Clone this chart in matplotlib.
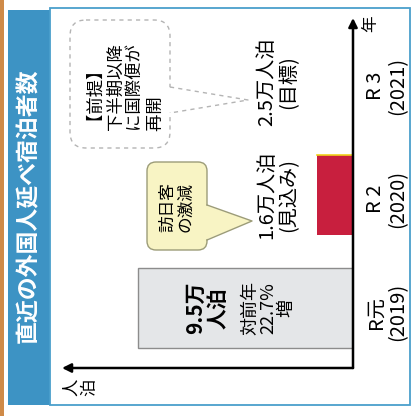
import matplotlib
matplotlib.use('Agg')
import matplotlib.pyplot as plt
from matplotlib.patches import Rectangle, FancyBboxPatch, Polygon
from matplotlib.lines import Line2D
from matplotlib.transforms import Affine2D

plt.rcParams['font.family'] = ['Noto Sans CJK JP', 'DejaVu Sans']

# data
years = ['R元\n(2019)', 'R 2\n(2020)', 'R 3\n(2021)']
values = [9.5, 1.6, 2.5]
value_labels = ['', '1.6万人泊\n(見込み)', '2.5万人泊\n(目標)']
bar_colors = ['#e4e6e8', '#c81f3e', 'none']
bar_edges = ['#8c8c8c', 'none', 'none']

title = '直近の外国人延べ宿泊者数'
box_main = '9.5万\n人泊'
box_sub = '対前年\n22.7%\n増'
callout = '訪日客\nの激減'
note_lines = ['【前提】', '下半期以降', 'に国際便が', '再開']

W, H = 414, 416
fig = plt.figure(figsize=(W / 100, H / 100), dpi=100)
fig.patch.set_facecolor('white')
# pixel coords, origin top-left (for frame / speech bubbles)
pix = Affine2D().scale(1 / W, -1 / H).translate(0, 1) + fig.transFigure

blue = '#3d93c4'
fig.add_artist(Rectangle((0, 0), 4, H, transform=pix, color='#cf8a48', lw=0,
                         zorder=-2))
fig.add_artist(Rectangle((8, 10), 42, 395, transform=pix, color=blue, lw=0,
                         zorder=-2))
fig.add_artist(Rectangle((50, 8), 360, 397, transform=pix, facecolor='white',
                         edgecolor='#4a9fcc', lw=1.3, zorder=-2))
fig.text(29, 206, title, transform=pix, rotation=90, ha='center', va='center',
         color='white', fontsize=16.5, fontweight='bold')

# main chart (rotated: values grow to the left, years go up)
ax = fig.add_axes([62 / W, 1 - 368 / H, (353 - 62) / W, (368 - 18) / H])
ax.patch.set_alpha(0)
xmax = 12.876
y0, ytop = -0.531, 2.566
ax.set_xlim(xmax, 0)
ax.set_ylim(y0, ytop)
ax.axis('off')

for i, v in enumerate(values):
    ax.barh(i, v, height=0.70, color=bar_colors[i], edgecolor=bar_edges[i],
            lw=1, zorder=2)
ax.plot([0, values[1]], [1.35, 1.35], color='#f0d21c', lw=1.2, zorder=3)

arrow = dict(arrowstyle='-|>', color='black', lw=1.8, mutation_scale=13,
             shrinkA=0, shrinkB=0)
ax.annotate('', xy=(xmax, y0), xytext=(0, y0), arrowprops=arrow,
            annotation_clip=False, zorder=4)
ax.annotate('', xy=(0, ytop), xytext=(0, y0), arrowprops=arrow,
            annotation_clip=False, zorder=4)

for i, lbl in enumerate(years):
    ax.annotate(lbl, xy=(0, i), xytext=(9, -3), textcoords='offset points',
                rotation=90, ha='left', va='center', multialignment='center',
                fontsize=14.5, linespacing=1.05)

offsets = [0, -13, 2]
for i, lbl in enumerate(value_labels):
    if lbl:
        ax.annotate(lbl, xy=(values[i], i), xytext=(offsets[i], 0),
                    textcoords='offset points', rotation=90, ha='right',
                    va='center', multialignment='center', fontsize=14.5,
                    linespacing=1.05)

ax.text(6.46, 0, box_main, rotation=90, ha='center', va='center',
        multialignment='center', fontsize=15, fontweight='bold',
        linespacing=1.1, zorder=5)
ax.text(3.76, 0, box_sub, rotation=90, ha='center', va='center',
        multialignment='center', fontsize=13, linespacing=1.0, zorder=5)

# axis unit labels
fig.text(80, 387, '人\n泊', transform=pix, rotation=90, ha='center',
         va='center', fontsize=12.5, linespacing=1.0)
fig.text(371, 24, '年', transform=pix, rotation=90, ha='center', va='center',
         fontsize=12)

# callout bubble
fill = '#f8f4c4'
edge = '#9c9c78'
fig.add_artist(FancyBboxPatch((147, 162), 60, 88, transform=pix,
                              boxstyle='round,pad=0,rounding_size=9',
                              facecolor=fill, edgecolor=edge, lw=1))
fig.add_artist(Polygon([(205, 205), (252, 221), (205, 240)], closed=True,
                       transform=pix, facecolor=fill, edgecolor='none'))
fig.add_artist(Line2D([207, 252, 207], [205, 221, 240], transform=pix,
                      color=edge, lw=1))
fig.text(177, 207, callout, transform=pix, rotation=90, ha='center',
         va='center', fontsize=12, linespacing=1.05, multialignment='left')

# dashed note bubble
gray = '#b4b4b4'
fig.add_artist(FancyBboxPatch((70, 20), 100, 128, transform=pix,
                              boxstyle='round,pad=0,rounding_size=16',
                              facecolor='none', edgecolor=gray, lw=1,
                              linestyle=(0, (3, 3))))
fig.add_artist(Polygon([(168, 87), (248, 100), (168, 113)], closed=True,
                       transform=pix, facecolor='white', edgecolor='none'))
fig.add_artist(Line2D([170, 248, 170], [87, 100, 113], transform=pix,
                      color=gray, lw=1, linestyle=(0, (3, 3))))
for k, line in enumerate(note_lines):
    # trailing space keeps the layout of the closing bracket stable
    fig.text(95 + 19.5 * k, 131, line + ' ', transform=pix, rotation=90,
             rotation_mode='anchor', ha='left', va='center_baseline',
             fontsize=12.5)

fig.savefig('out.png', dpi=100)
